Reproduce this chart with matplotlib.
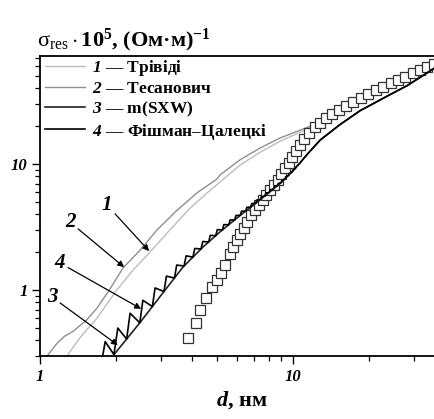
import matplotlib
matplotlib.use("Agg")
import matplotlib.pyplot as plt
from matplotlib.ticker import FixedLocator, LogLocator, NullFormatter, FixedFormatter

plt.rcParams['font.family'] = ['Liberation Serif', 'DejaVu Serif']
plt.rcParams['mathtext.fontset'] = 'custom'
plt.rcParams['mathtext.rm'] = 'Liberation Serif'
plt.rcParams['mathtext.it'] = 'Liberation Serif:italic:bold'
plt.rcParams['mathtext.bf'] = 'Liberation Serif:bold'
plt.rcParams['mathtext.bfit'] = 'Liberation Serif:italic:bold'

# ---- data ----
# 1 - Trivedi
d1 = [1.278, 1.44, 1.68, 2.01, 2.33, 2.72, 3.26, 3.92, 4.70, 5.15, 6.17, 7.41, 8.89, 10.7, 12.8, 14.7, 18.4, 24.2, 36.4]
s1 = [0.30, 0.42, 0.60, 1.0, 1.44, 2.0, 3.0, 4.47, 6.2, 7.2, 9.8, 12.4, 15.2, 17.9, 21.1, 25.0, 31.5, 40.0, 62.0]
# 2 - Tesanovich
d2 = [1.066, 1.12, 1.17, 1.25, 1.35, 1.53, 1.68, 1.89, 2.13, 2.49, 2.90, 3.48, 4.17, 5.0, 5.15, 6.17, 7.41, 8.89, 10.7, 12.8, 14.7, 18.4, 24.2, 36.4]
s2 = [0.30, 0.34, 0.38, 0.43, 0.47, 0.58, 0.72, 1.02, 1.50, 2.08, 3.0, 4.3, 5.9, 7.6, 8.2, 10.8, 13.4, 16.1, 18.6, 21.5, 25.4, 31.8, 40.5, 62.0]
# 3 - m(SXW)
d3 = [1.94, 2.48, 3.06, 3.67, 4.41, 5.15, 6.17, 7.41, 8.89, 10.0, 11.4, 12.8, 15.3, 18.4, 23.5, 28.3, 36.4]
s3 = [0.30, 0.55, 0.95, 1.52, 2.2, 2.9, 3.9, 5.2, 7.0, 8.8, 12.0, 15.5, 20.5, 26.5, 34.5, 42.0, 58.0]
# 4 - Fishman-Calecki (sawtooth vertices: valley, peak, valley, peak ...)
d4 = [1.74, 1.81, 1.96, 2.03, 2.20, 2.27, 2.48, 2.55, 2.78, 2.85, 3.09, 3.16, 3.40, 3.47,
      3.71, 3.78, 4.02, 4.09, 4.33, 4.40, 4.64, 4.71, 4.95, 5.02, 5.26, 5.33, 5.57, 5.64,
      5.88, 5.95, 6.19, 6.26, 6.50, 6.57, 6.81, 6.88, 7.12, 7.19, 7.43, 7.50, 7.74, 7.81,
      8.05, 8.12, 8.36, 8.43, 8.67, 8.74, 8.98, 9.05, 9.29, 9.36, 9.60, 9.67, 9.91, 9.98,
      10.22, 10.29, 10.53, 10.60, 10.90, 11.4, 12.8, 15.3, 18.4, 23.5, 28.3, 36.4]
s4 = [0.25, 0.39, 0.308, 0.50, 0.409, 0.655, 0.55, 0.83, 0.74, 1.04, 0.974, 1.29, 1.247, 1.58,
      1.553, 1.87, 1.826, 2.14, 2.119, 2.43, 2.408, 2.72, 2.70, 3.02, 3.002, 3.31, 3.298, 3.60,
      3.604, 3.91, 3.92, 4.23, 4.232, 4.54, 4.554, 4.86, 4.883, 5.18, 5.223, 5.52, 5.583, 5.89,
      5.952, 6.25, 6.33, 6.64, 6.717, 7.01, 7.138, 7.46, 7.624, 7.93, 8.125, 8.45, 8.642, 8.94,
      9.27, 9.52, 9.95, 10.06, 10.79, 12.0, 15.5, 20.5, 26.5, 34.5, 42.0, 58.0]
# experimental points
de = [3.85, 4.12, 4.30, 4.55, 4.80, 5.00, 5.20, 5.40, 5.62, 5.80, 6.00, 6.2, 6.4, 6.6, 6.85,
      7.1, 7.35, 7.6, 7.85, 8.1, 8.4, 8.7, 9.0, 9.3, 9.6, 9.9, 10.3, 10.7, 11.1, 11.6, 12.2,
      12.8, 13.5, 14.3, 15.2, 16.2, 17.3, 18.5, 19.8, 21.2, 22.7, 24.3, 26.0, 27.8, 29.7,
      31.7, 33.8, 36.0]
se = [0.42, 0.55, 0.70, 0.86, 1.05, 1.20, 1.36, 1.58, 1.95, 2.2, 2.5, 2.8, 3.1, 3.5, 3.95,
      4.35, 4.75, 5.2, 5.7, 6.2, 6.8, 7.5, 8.3, 9.3, 10.2, 11.3, 12.6, 14.2, 15.9, 17.6, 19.6,
      21.3, 23.2, 25.0, 26.8, 28.7, 31.2, 33.6, 36.0, 38.6, 41.0, 43.6, 46.3, 49.2, 52.5,
      55.8, 59.0, 62.0]

labels = [r"$\mathbfit{1}$ — Трівіді", r"$\mathbfit{2}$ — Тесанович",
          r"$\mathbfit{3}$ — m(SXW)", r"$\mathbfit{4}$ — Фішман–Цалецкі"]
xticks = [1, 10]
xticklabels = ["1", "10"]
yticks = [1, 10]
yticklabels = ["1", "10"]

fig = plt.figure(figsize=(4.35, 4.19), dpi=100)
ax = fig.add_axes([40/435, 63/419, 395/435, 300/419])
ax.set_xscale('log')
ax.set_yscale('log')

ax.plot(d1, s1, color='#bdbdbd', lw=1.0, label=labels[0], zorder=2)
ax.plot(d2, s2, color='#8f8f8f', lw=1.0, label=labels[1], zorder=2)
ax.plot(d3, s3, color='#222222', lw=1.2, label=labels[2], zorder=4)
ax.plot(d4, s4, color='#000000', lw=1.2, label=labels[3], zorder=4)
ax.plot(de, se, ls='none', marker='s', ms=6.5, mfc='white', mec='#333333', mew=0.9, zorder=3)

ax.set_xlim(1, 36.4)
ax.set_ylim(0.3, 72)

ax.xaxis.set_major_locator(FixedLocator(xticks))
ax.xaxis.set_major_formatter(FixedFormatter(xticklabels))
ax.xaxis.set_minor_locator(LogLocator(base=10, subs=range(2, 10), numticks=20))
ax.xaxis.set_minor_formatter(NullFormatter())
ax.yaxis.set_major_locator(FixedLocator(yticks))
ax.yaxis.set_major_formatter(FixedFormatter(yticklabels))
ax.yaxis.set_minor_locator(LogLocator(base=10, subs=range(2, 10), numticks=20))
ax.yaxis.set_minor_formatter(NullFormatter())

ax.tick_params(which='major', direction='out', length=6, width=1.0, labelsize=12, pad=3)
ax.tick_params(which='minor', direction='out', length=3.5, width=0.9)
for lab in ax.get_xticklabels() + ax.get_yticklabels():
    lab.set_fontstyle('italic')
    lab.set_fontweight('bold')

ax.spines['right'].set_visible(False)
for sp in ['left', 'bottom', 'top']:
    ax.spines[sp].set_linewidth(1.3)

leg = ax.legend(loc='upper left', bbox_to_anchor=(0.0127, 0.993), frameon=False,
                handlelength=2.3, handletextpad=0.4, labelspacing=0.155, borderaxespad=0.0,
                borderpad=0.0,
                prop={'family': 'Liberation Serif', 'weight': 'bold', 'size': 12.5})

ann = dict(arrowstyle='-|>', color='black', lw=0.9, mutation_scale=9, shrinkA=0, shrinkB=0)
tfont = dict(fontsize=15, fontstyle='italic', fontweight='bold', ha='center', va='center')
ax.annotate('1', xy=(2.70, 2.04), xytext=(1.84, 4.73), arrowprops=ann, **tfont)
ax.annotate('2', xy=(2.15, 1.52), xytext=(1.314, 3.46), arrowprops=ann, **tfont)
ax.annotate('4', xy=(2.51, 0.71), xytext=(1.20, 1.64), arrowprops=ann, **tfont)
ax.annotate('3', xy=(2.03, 0.366), xytext=(1.116, 0.88), arrowprops=ann, **tfont)

fig.text(37/435, 1 - 46/419,
         r"$\mathrm{\sigma}_{\mathrm{res}}\cdot\mathbf{10}^{\mathbf{5}}$, (Ом·м)$^{\mathbf{-1}}$",
         fontsize=16, fontweight='bold', ha='left', va='baseline')
fig.text(242/435, 1 - 406/419, r"$d$, нм", fontsize=16, fontweight='bold',
         ha='center', va='baseline')

fig.savefig('out.png', dpi=100)
